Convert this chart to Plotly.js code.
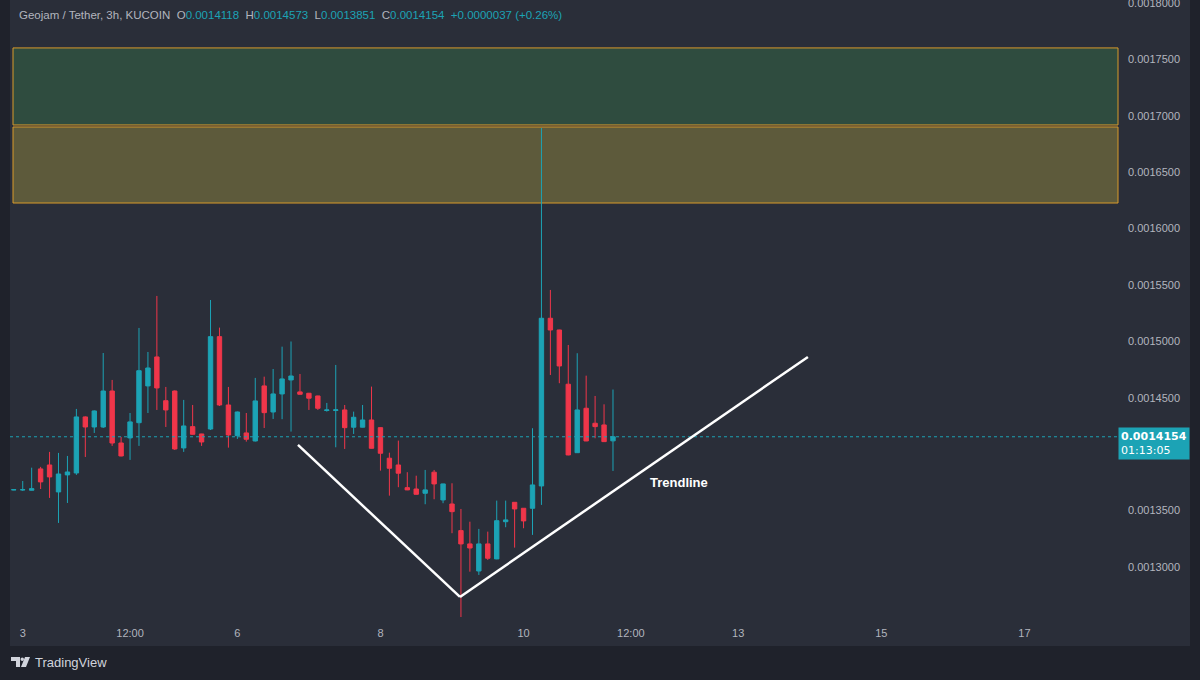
<!DOCTYPE html>
<html><head><meta charset="utf-8">
<script src="https://cdn.plot.ly/plotly-3.0.1.min.js"></script>
<style>html,body{margin:0;padding:0;background:#1f222b;}#chart{width:1200px;height:680px;}</style>
</head><body><div id="chart"></div>
<script>
// ---- data (3h candles, GJ/USDT KUCOIN) ----
const startTime = '2023-01-02T21:00:00Z';
const stepHours = 3;
const opens = [0.0013683,0.0013683,0.0013680,0.0013869,0.0013904,0.0013665,0.0013816,0.0013833,0.0014330,0.0014241,
0.0014241,0.0014560,0.0014099,0.0014144,0.0014279,0.0014605,0.0014862,0.0014474,0.0014560,0.0014055,
0.0014244,0.0014179,0.0014223,0.0015042,0.0014436,0.0014164,0.0014188,0.0014117,0.0014605,0.0014374,
0.0014534,0.0014658,0.0014552,0.0014540,0.0014516,0.0014387,0.0014387,0.0014392,0.0014239,0.0014239,
0.0014303,0.0014235,0.0013964,0.0013904,0.0013703,0.0013691,0.0013653,0.0013840,0.0013594,0.0013558,
0.0013322,0.0013204,0.0012964,0.0013204,0.0013071,0.0013401,0.0013573,0.0013520,0.0013520,0.0013718,
0.0015205,0.0015101,0.0014620,0.0014013,0.0014407,0.0014274,0.0014259,0.0014118];
const highs = [0.0013690,0.0013762,0.0013880,0.0013887,0.0014020,0.0014011,0.0013984,0.0014401,0.0014335,0.0014388,
0.0014897,0.0014658,0.0014153,0.0014365,0.0015119,0.0014906,0.0015403,0.0014596,0.0014565,0.0014481,
0.0014436,0.0014180,0.0015367,0.0015122,0.0014596,0.0014378,0.0014365,0.0014676,0.0014687,0.0014755,
0.0014953,0.0014999,0.0014711,0.0014543,0.0014518,0.0014454,0.0014791,0.0014436,0.0014377,0.0014436,
0.0014599,0.0014237,0.0014013,0.0014120,0.0013840,0.0013809,0.0013860,0.0013860,0.0013738,0.0013742,
0.0013514,0.0013401,0.0013337,0.0013313,0.0013588,0.0013588,0.0013575,0.0013522,0.0014230,0.0016892,
0.0015456,0.0015103,0.0014968,0.0014895,0.0014696,0.0014516,0.0014442,0.0014573];
const lows = [0.0013680,0.0013674,0.0013678,0.0013691,0.0013612,0.0013390,0.0013567,0.0013816,0.0013975,0.0014188,
0.0014232,0.0014073,0.0013980,0.0013949,0.0014073,0.0014365,0.0014392,0.0014241,0.0014037,0.0014020,
0.0014174,0.0014073,0.0014214,0.0014427,0.0014058,0.0014135,0.0014111,0.0014112,0.0014232,0.0014312,
0.0014310,0.0014200,0.0014529,0.0014392,0.0014392,0.0014377,0.0014061,0.0014046,0.0014179,0.0014237,
0.0014050,0.0013854,0.0013632,0.0013707,0.0013681,0.0013642,0.0013556,0.0013600,0.0013565,0.0013299,
0.0012548,0.0012958,0.0012929,0.0013062,0.0013068,0.0013352,0.0013171,0.0013343,0.0013284,0.0013550,
0.0014702,0.0014629,0.0013990,0.0014010,0.0014115,0.0014141,0.0014110,0.0013851];
const closes = [0.0013685,0.0013685,0.0013694,0.0013754,0.0013798,0.0013824,0.0013842,0.0014330,0.0014241,0.0014383,
0.0014560,0.0014099,0.0013984,0.0014286,0.0014740,0.0014764,0.0014587,0.0014392,0.0014046,0.0014250,
0.0014176,0.0014108,0.0015042,0.0014436,0.0014170,0.0014374,0.0014132,0.0014472,0.0014368,0.0014534,
0.0014667,0.0014693,0.0014531,0.0014496,0.0014407,0.0014392,0.0014393,0.0014235,0.0014327,0.0014303,
0.0014052,0.0014008,0.0013875,0.0013831,0.0013683,0.0013644,0.0013683,0.0013736,0.0013736,0.0013490,
0.0013204,0.0013168,0.0013204,0.0013077,0.0013410,0.0013417,0.0013514,0.0013408,0.0013727,0.0015205,
0.0015101,0.0014782,0.0013993,0.0014392,0.0014117,0.0014244,0.0014111,0.0014154];

const xTickVals = ['2023-01-03 00:00','2023-01-04 12:00','2023-01-06 00:00','2023-01-08 00:00','2023-01-10 00:00','2023-01-11 12:00','2023-01-13 00:00','2023-01-15 00:00','2023-01-17 00:00'];
const xTickText = ['3','12:00','6','8','10','12:00','13','15','17'];
// 0.0014000 sits under the last-price label, so it is not shown
const yTickVals = [0.0013,0.00135,0.00145,0.0015,0.00155,0.0016,0.00165,0.0017,0.00175];
const yTopTick = 0.0018;

// zones (supply areas)
const greenZone = [0.0016919, 0.0017602];
const oliveZone = [0.0016227, 0.0016901];
// trendline drawing
const trendTimes = ['2023-01-06 20:20','2023-01-09 02:40','2023-01-13 23:23'];
const trendPrices = [0.0014082, 0.0012734, 0.0014862];
const trendLabel = {time:'2023-01-12 04:06', price:0.0013745, text:'Trendline'};
const lastPrice = 0.0014154;
const countdown = '01:13:05';
const header = {sym:'Geojam / Tether, 3h, KUCOIN', o:'0.0014118', h:'0.0014573', l:'0.0013851', c:'0.0014154', chg:'+0.0000037 (+0.26%)'};

// ---- build ----
function fmt(d){const p=n=>String(n).padStart(2,'0');return d.getUTCFullYear()+'-'+p(d.getUTCMonth()+1)+'-'+p(d.getUTCDate())+' '+p(d.getUTCHours())+':'+p(d.getUTCMinutes());}
const t0 = new Date(startTime).getTime();
const times = opens.map((_,i)=>fmt(new Date(t0+i*stepHours*3600e3)));

const TEAL='#1ca3b5', RED='#f0364a', PANEL='#2a2e39', OUTER='#1f222b', TXT='#b2b5be';
const L=10, R=1118, T=0, B=617;
const px=x=>(x-L)/(R-L), py=y=>(B-y)/(B-T);
const FONT='Liberation Sans, Arial, sans-serif';

const trace = {
  type:'candlestick', x:times, open:opens, high:highs, low:lows, close:closes,
  increasing:{line:{color:TEAL,width:1},fillcolor:TEAL},
  decreasing:{line:{color:RED,width:1},fillcolor:RED},
  whiskerwidth:0, hoverinfo:'skip', showlegend:false
};

const shapes = [
  {type:'rect',xref:'paper',yref:'paper',x0:px(10),x1:px(1190),y0:py(646),y1:py(0),fillcolor:PANEL,line:{width:0},layer:'below'},
  {type:'rect',xref:'paper',yref:'y',x0:px(13),x1:1,y0:greenZone[0],y1:greenZone[1],fillcolor:'#2f4c3f',line:{color:'#d99a2b',width:1},layer:'below'},
  {type:'rect',xref:'paper',yref:'y',x0:px(13),x1:1,y0:oliveZone[0],y1:oliveZone[1],fillcolor:'#5d5a3b',line:{color:'#d99a2b',width:1},layer:'below'},
  {type:'line',xref:'paper',yref:'y',x0:0,x1:1,y0:lastPrice,y1:lastPrice,line:{color:TEAL,width:1,dash:'dot'}},
  {type:'line',xref:'x',yref:'y',x0:trendTimes[0],y0:trendPrices[0],x1:trendTimes[1],y1:trendPrices[1],line:{color:'#ffffff',width:2.5}},
  {type:'line',xref:'x',yref:'y',x0:trendTimes[1],y0:trendPrices[1],x1:trendTimes[2],y1:trendPrices[2],line:{color:'#ffffff',width:2.5}},
  // TradingView logo
  {type:'path',xref:'paper',yref:'paper',path:`M${px(11)},${py(657)} L${px(20)},${py(657)} L${px(20)},${py(667)} L${px(16)},${py(667)} L${px(16)},${py(661)} L${px(11)},${py(661)} Z`,fillcolor:'#d1d4dc',line:{width:0}},
  {type:'circle',xref:'paper',yref:'paper',x0:px(20.5),x1:px(24),y0:py(661),y1:py(657.5),fillcolor:'#d1d4dc',line:{width:0}},
  {type:'path',xref:'paper',yref:'paper',path:`M${px(25)},${py(657)} L${px(30)},${py(657)} L${px(26)},${py(667)} L${px(21)},${py(667)} Z`,fillcolor:'#d1d4dc',line:{width:0}}
];

const span=(c,t)=>`<span style="color:${c}">${t}</span>`;
const headerText = span(TXT,header.sym+'  ')+span(TXT,'O')+span(TEAL,header.o+'  ')+span(TXT,'H')+span(TEAL,header.h+'  ')+span(TXT,'L')+span(TEAL,header.l+'  ')+span(TXT,'C')+span(TEAL,header.c+'  ')+span(TEAL,header.chg);

const annotations = [
  {xref:'paper',yref:'paper',x:px(17),y:py(15),xanchor:'left',yanchor:'middle',showarrow:false,text:headerText,font:{family:FONT,size:11.5,color:TXT}},
  {xref:'x',yref:'y',x:trendLabel.time,y:trendLabel.price,showarrow:false,text:'<b>'+trendLabel.text+'</b>',font:{family:FONT,size:13,color:'#ffffff'}},
  {xref:'paper',yref:'y',x:px(1127),y:yTopTick,xanchor:'left',yanchor:'middle',showarrow:false,text:yTopTick.toFixed(7),font:{family:FONT,size:11,color:TXT},borderpad:0},
  {xref:'paper',yref:'y',x:1,y:lastPrice,xanchor:'left',yanchor:'top',yshift:10,showarrow:false,align:'left',bgcolor:TEAL,borderpad:2,
   text:'<b>'+lastPrice.toFixed(7)+'</b><br>'+countdown,font:{family:'DejaVu Sans, sans-serif',size:11,color:'#ffffff'}},
  {xref:'paper',yref:'paper',x:px(33),y:py(662),xanchor:'left',yanchor:'middle',showarrow:false,text:'TradingView',font:{family:FONT,size:13,color:'#d1d4dc'}}
];

const layout = {
  width:1200,height:680,autosize:false,
  margin:{l:L,r:1200-R,t:T,b:680-B,pad:0},
  paper_bgcolor:OUTER, plot_bgcolor:PANEL,
  showlegend:false, dragmode:false, hovermode:false,
  xaxis:{type:'date',range:['2023-01-02 19:44','2023-01-18 07:24'],rangeslider:{visible:false},
    tickmode:'array',tickvals:xTickVals,ticktext:xTickText,showgrid:false,zeroline:false,showline:false,ticks:'',
    ticklabelstandoff:8,tickfont:{family:FONT,size:11,color:TXT}},
  yaxis:{side:'right',range:[0.0012556,0.0018027],tickmode:'array',tickvals:yTickVals,tickformat:'.7f',
    showgrid:false,zeroline:false,showline:false,ticks:'',ticklabelstandoff:9,
    tickfont:{family:FONT,size:11,color:TXT}},
  shapes:shapes, annotations:annotations
};

Plotly.newPlot('chart',[trace],layout,{displayModeBar:false,staticPlot:true});
</script>
</body></html>
